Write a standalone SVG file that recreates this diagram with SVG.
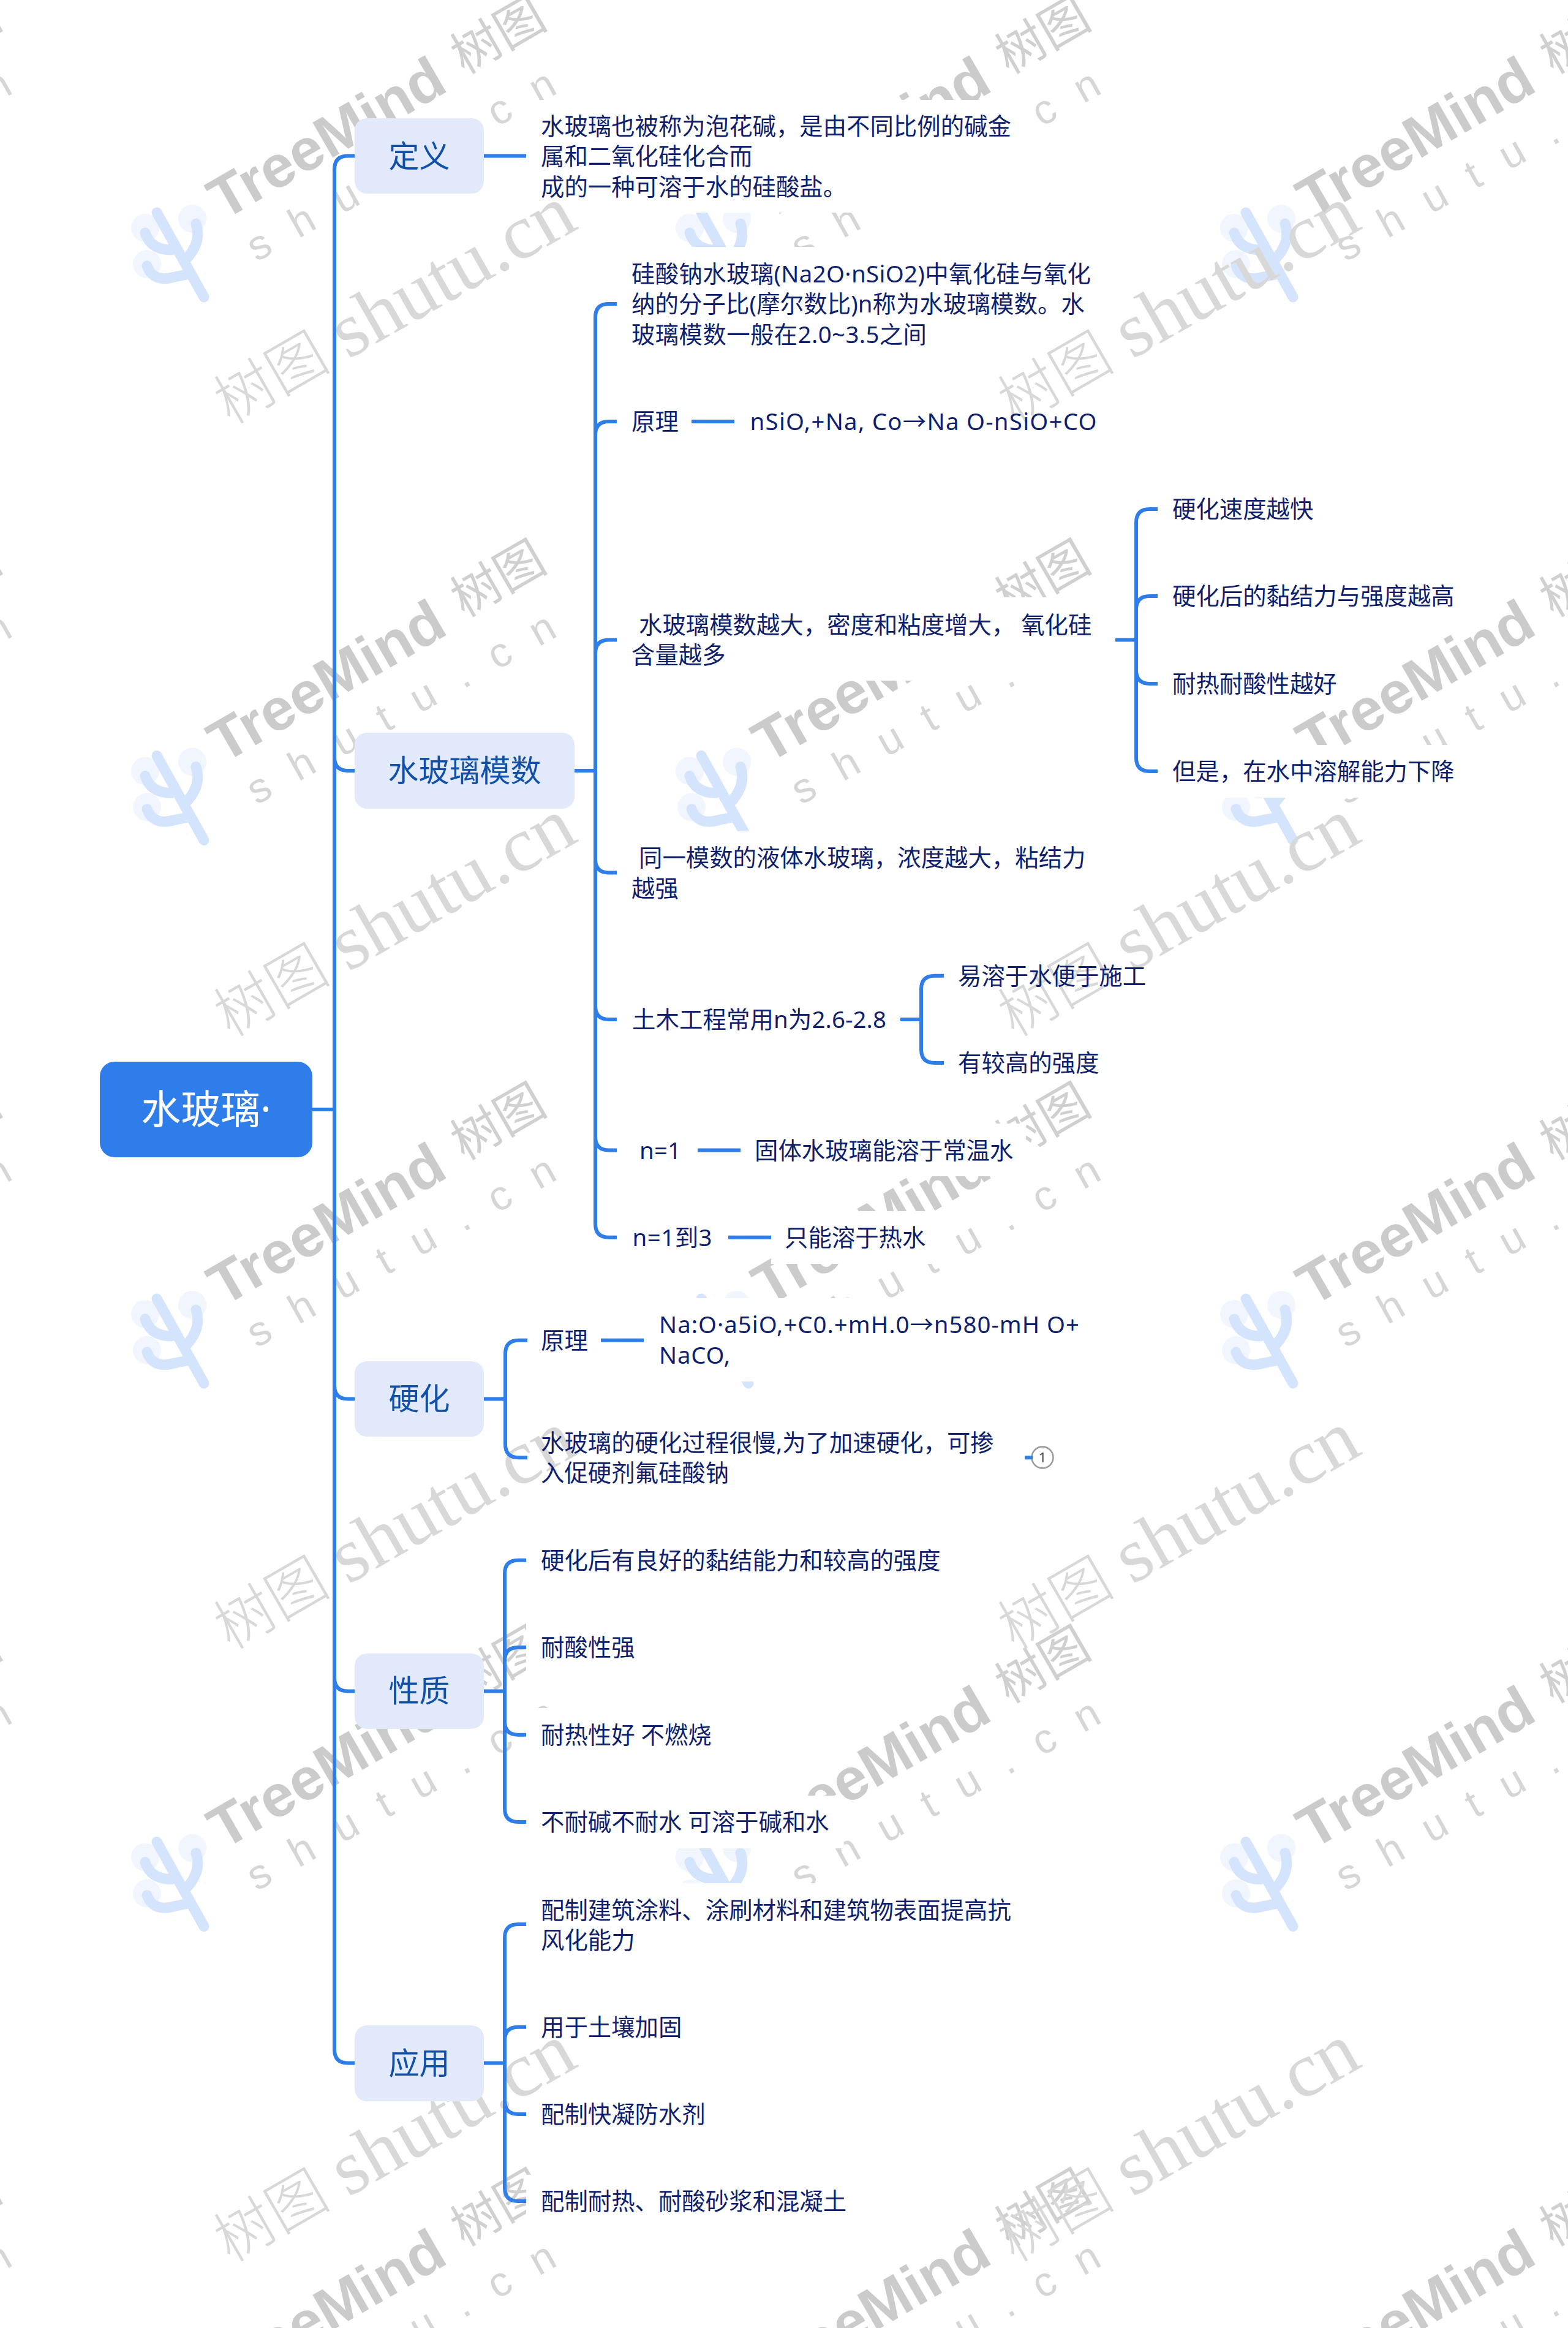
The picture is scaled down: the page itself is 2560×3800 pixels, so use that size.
<svg xmlns="http://www.w3.org/2000/svg" xmlns:xlink="http://www.w3.org/1999/xlink" width="2560" height="3800" viewBox="0 0 2560 3800">
<style>
text{font-family:"Noto Sans","Noto Sans CJK SC",sans-serif}
.t{font-size:38.4px;fill:#0f1f6e}
.l1{font-size:50px;fill:#1150a8;text-anchor:middle}
.root{font-size:65px;fill:#fff;text-anchor:middle}
.n1{fill:#e1e9fb}
.bg{fill:#fff}
.c{fill:none;stroke:#2f7de8;stroke-width:6}
.wm1{font-family:"Liberation Sans",sans-serif;font-weight:700;font-size:96px;fill:#cbcbcb}
.wm2{font-family:"Noto Sans CJK SC",sans-serif;font-size:80px;fill:#d0d0d0}
.wm3{font-family:"Liberation Sans",sans-serif;font-size:68px;fill:#d6d6d6}
.wm4{font-family:"Noto Sans CJK SC",serif;font-size:96px;font-weight:300;fill:#d8d8d8}
.wm5{font-family:"Liberation Serif",serif;font-size:126px;fill:#d8d8d8}
</style>
<defs>
<g id="tileA">
<circle cx="239" cy="372" r="23" fill="#f1f5fe"/><circle cx="316" cy="357" r="23" fill="#f1f5fe"/><circle cx="242" cy="431" r="23" fill="#f1f5fe"/>
<path d="M258 347L335 485M322 365Q332 395 306 423M239 380Q248 408 282 408M242 434Q252 462 287 452L312 447" fill="none" stroke="#d5e4fd" stroke-width="17" stroke-linecap="round"/>
<text class="wm1" transform="translate(366.5 360.6) rotate(-30)" textLength="427" lengthAdjust="spacingAndGlyphs">TreeMind</text>
<text class="wm2" transform="translate(760 122) rotate(-30)">树图</text>
<text class="wm3" transform="translate(421 428) rotate(-29.3)" textLength="566" lengthAdjust="spacing">shutu.cn</text>
</g>
<g id="tileB">
<text class="wm4" transform="translate(376 694) rotate(-30)">树图</text>
<text class="wm5" transform="translate(568 587) rotate(-29.6)" textLength="436" lengthAdjust="spacingAndGlyphs">shutu.cn</text>
</g>
</defs>
<rect width="2560" height="3800" fill="#fff"/>
<g id="watermark-a">
<use href="#tileA" x="-891" y="0"/><use href="#tileA" x="-2" y="0"/><use href="#tileA" x="887" y="0"/><use href="#tileA" x="1776" y="0"/>
<use href="#tileA" x="-891" y="886.5"/><use href="#tileA" x="-2" y="886.5"/><use href="#tileA" x="887" y="886.5"/><use href="#tileA" x="1776" y="886.5"/>
<use href="#tileA" x="-891" y="1773"/><use href="#tileA" x="-2" y="1773"/><use href="#tileA" x="887" y="1773"/><use href="#tileA" x="1776" y="1773"/>
<use href="#tileA" x="-891" y="2659.5"/><use href="#tileA" x="-2" y="2659.5"/><use href="#tileA" x="887" y="2659.5"/><use href="#tileA" x="1776" y="2659.5"/>
<use href="#tileA" x="-891" y="3546"/><use href="#tileA" x="-2" y="3546"/><use href="#tileA" x="887" y="3546"/><use href="#tileA" x="1776" y="3546"/>
</g>
<g id="text-backgrounds">
<rect class="bg" x="859" y="163" width="816" height="184"/>
<rect class="bg" x="1007" y="403" width="798" height="187"/>
<rect class="bg" x="1007" y="645" width="122" height="86"/>
<rect class="bg" x="1007" y="975" width="799" height="136"/>
<rect class="bg" x="1890" y="788" width="278" height="86"/>
<rect class="bg" x="1890" y="930" width="508" height="86"/>
<rect class="bg" x="1890" y="1073" width="317" height="86"/>
<rect class="bg" x="1890" y="1216" width="508" height="86"/>
<rect class="bg" x="1007" y="1357" width="788" height="136"/>
<rect class="bg" x="1007" y="1621" width="464" height="86"/>
<rect class="bg" x="1007" y="1834" width="132" height="86"/>
<rect class="bg" x="1209" y="1834" width="466" height="86"/>
<rect class="bg" x="1007" y="1977" width="182" height="86"/>
<rect class="bg" x="1259" y="1977" width="274" height="86"/>
<rect class="bg" x="859" y="2144" width="122" height="86"/>
<rect class="bg" x="1051" y="2119" width="735" height="136"/>
<rect class="bg" x="859" y="2312" width="786" height="135"/>
<rect class="bg" x="859" y="2503" width="699" height="87"/>
<rect class="bg" x="859" y="2646" width="202" height="86"/>
<rect class="bg" x="859" y="2788" width="328" height="87"/>
<rect class="bg" x="859" y="2931" width="519" height="86"/>
<rect class="bg" x="859" y="3074" width="815" height="136"/>
<rect class="bg" x="859" y="3266" width="276" height="86"/>
<rect class="bg" x="859" y="3408" width="314" height="86"/>
<rect class="bg" x="859" y="3550" width="546" height="86"/>
</g>
<g id="watermark-b">
<use href="#tileB" x="0" y="0"/><use href="#tileB" x="1280" y="0"/>
<use href="#tileB" x="0" y="1000"/><use href="#tileB" x="1280" y="1000"/>
<use href="#tileB" x="0" y="2000"/><use href="#tileB" x="1280" y="2000"/>
<use href="#tileB" x="0" y="3000"/><use href="#tileB" x="1280" y="3000"/>
</g>
<g id="root"><rect x="163" y="1733" width="347" height="156" rx="24" fill="#2f7de8"/><text class="root" x="336.5" y="1834">水玻璃·</text></g>
<g id="n-def"><rect class="n1" x="579" y="193" width="211" height="123" rx="20"/><text class="l1" x="684.5" y="273">定义</text></g>
<g id="n-mod"><rect class="n1" x="579" y="1196" width="359" height="124" rx="20"/><text class="l1" x="758.5" y="1276">水玻璃模数</text></g>
<g id="n-hard"><rect class="n1" x="579" y="2222" width="211" height="123" rx="20"/><text class="l1" x="684.5" y="2301">硬化</text></g>
<g id="n-prop"><rect class="n1" x="579" y="2699" width="211" height="123" rx="20"/><text class="l1" x="684.5" y="2778">性质</text></g>
<g id="n-app"><rect class="n1" x="579" y="3306" width="211" height="124" rx="20"/><text class="l1" x="684.5" y="3386">应用</text></g>
<g id="leaf-def"><text class="t" x="883" y="219.5">水玻璃也被称为泡花碱，是由不同比例的碱金</text><text class="t" x="883" y="269">属和二氧化硅化合而</text><text class="t" x="883" y="319">成的一种可溶于水的硅酸盐。</text></g>
<g id="leaf-m1"><text class="t" x="1031" y="460.5" textLength="750">硅酸钠水玻璃(Na2O·nSiO2)中氧化硅与氧化</text><text class="t" x="1031" y="510" textLength="740">纳的分子比(摩尔数比)n称为水玻璃模数。水</text><text class="t" x="1031" y="560" textLength="482">玻璃模数一般在2.0~3.5之间</text></g>
<g id="leaf-m2"><text class="t" x="1031" y="702">原理</text></g>
<g id="leaf-m2a"><text class="t" x="1224.6" y="702" textLength="566">nSiO,+Na, Co→Na O-nSiO+CO</text></g>
<g id="leaf-m3"><text class="t" x="1043" y="1034">水玻璃模数越大，密度和粘度增大， 氧化硅</text><text class="t" x="1031" y="1083">含量越多</text></g>
<g id="leaf-m3a"><text class="t" x="1914" y="845">硬化速度越快</text></g>
<g id="leaf-m3b"><text class="t" x="1914" y="987">硬化后的黏结力与强度越高</text></g>
<g id="leaf-m3c"><text class="t" x="1914" y="1130">耐热耐酸性越好</text></g>
<g id="leaf-m3d"><text class="t" x="1914" y="1273">但是，在水中溶解能力下降</text></g>
<g id="leaf-m4"><text class="t" x="1043" y="1414">同一模数的液体水玻璃，浓度越大，粘结力</text><text class="t" x="1031" y="1464">越强</text></g>
<g id="leaf-m5"><text class="t" x="1032" y="1678" textLength="415">土木工程常用n为2.6-2.8</text></g>
<g id="leaf-m5a"><text class="t" x="1564" y="1607">易溶于水便于施工</text></g>
<g id="leaf-m5b"><text class="t" x="1564" y="1749">有较高的强度</text></g>
<g id="leaf-m6"><text class="t" x="1044" y="1891.5" textLength="68">n=1</text></g>
<g id="leaf-m6a"><text class="t" x="1232" y="1891.5">固体水玻璃能溶于常温水</text></g>
<g id="leaf-m7"><text class="t" x="1032.5" y="2034" textLength="130">n=1到3</text></g>
<g id="leaf-m7a"><text class="t" x="1281" y="2034">只能溶于热水</text></g>
<g id="leaf-h1"><text class="t" x="883" y="2202">原理</text></g>
<g id="leaf-h1a"><text class="t" x="1076" y="2176" textLength="686">Na:O·a5iO,+C0.+mH.0→n580-mH O+</text><text class="t" x="1076" y="2226" textLength="116">NaCO,</text></g>
<g id="leaf-h2"><text class="t" x="883" y="2369">水玻璃的硬化过程很慢,为了加速硬化，可掺</text><text class="t" x="883" y="2418">入促硬剂氟硅酸钠</text></g>
<g id="badge"><circle cx="1702" cy="2379" r="17.5" fill="#fff" stroke="#999" stroke-width="2.5"/><text x="1702" y="2387" font-size="22" fill="#444" text-anchor="middle">1</text></g>
<g id="leaf-p1"><text class="t" x="883" y="2561">硬化后有良好的黏结能力和较高的强度</text></g>
<g id="leaf-p2"><text class="t" x="883" y="2703">耐酸性强</text></g>
<g id="leaf-p3"><text class="t" x="883" y="2846">耐热性好 不燃烧</text></g>
<g id="leaf-p4"><text class="t" x="883" y="2988">不耐碱不耐水 可溶于碱和水</text></g>
<g id="leaf-a1"><text class="t" x="883" y="3131.5">配制建筑涂料、涂刷材料和建筑物表面提高抗</text><text class="t" x="883" y="3180.5">风化能力</text></g>
<g id="leaf-a2"><text class="t" x="883" y="3323">用于土壤加固</text></g>
<g id="leaf-a3"><text class="t" x="883" y="3465">配制快凝防水剂</text></g>
<g id="leaf-a4"><text class="t" x="883" y="3607">配制耐热、耐酸砂浆和混凝土</text></g>
<g id="connectors">
<path class="c" d="M510 1811H546M579 254.5H568Q546 254.5 546 276.5V3345.5Q546 3367.5 568 3367.5H579M546 1236Q546 1258 568 1258H579M546 2261.5Q546 2283.5 568 2283.5H579M546 2738.5Q546 2760.5 568 2760.5H579"/>
<path class="c" d="M790 254.5H859"/>
<path class="c" d="M938 1258H972M1007 496H994Q972 496 972 518V1997.7Q972 2019.7 994 2019.7H1007M1007 688H994Q972 688 972 710M1007 1044.5H994Q972 1044.5 972 1066.5M972 1402.5Q972 1424.5 994 1424.5H1007M972 1642Q972 1664 994 1664H1007M972 1855.5Q972 1877.5 994 1877.5H1007"/>
<path class="c" d="M1129 688H1199M1139 1877.5H1209M1189 2019.7H1259"/>
<path class="c" d="M1821 1044.5H1855M1890 831H1877Q1855 831 1855 853V1237Q1855 1259 1877 1259H1890M1890 973H1877Q1855 973 1855 995M1855 1094Q1855 1116 1877 1116H1890"/>
<path class="c" d="M1470 1664H1504M1541 1592.7H1526Q1504 1592.7 1504 1614.7V1713Q1504 1735 1526 1735H1541"/>
<path class="c" d="M790 2283.5H825M861 2187.7H847Q825 2187.7 825 2209.7V2357.3Q825 2379.3 847 2379.3H861M981 2187.7H1051M1673 2379.3H1686"/>
<path class="c" d="M790 2760.5H824M859 2546.7H846Q824 2546.7 824 2568.7V2952Q824 2974 846 2974H859M859 2689H846Q824 2689 824 2711M824 2809.7Q824 2831.7 846 2831.7H859"/>
<path class="c" d="M790 3367.5H824M859 3141H846Q824 3141 824 3163V3571Q824 3593 846 3593H859M859 3308.8H846Q824 3308.8 824 3330.8M824 3429Q824 3451 846 3451H859"/>
</g>
</svg>
